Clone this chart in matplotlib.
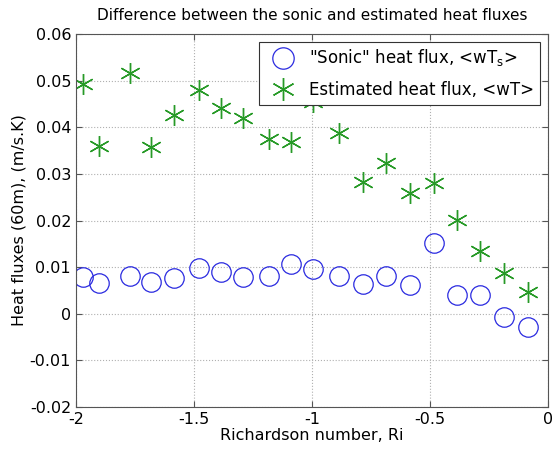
import matplotlib
matplotlib.use("Agg")
import matplotlib.pyplot as plt

# Richardson number bins
ri = [-1.97, -1.90, -1.77, -1.68, -1.585, -1.48, -1.385, -1.29, -1.18, -1.09,
      -0.995, -0.886, -0.785, -0.685, -0.585, -0.484, -0.387, -0.288, -0.186, -0.083]

# heat fluxes at 60 m (m/s.K)
sonic_flux = [0.0078, 0.0067, 0.0081, 0.0069, 0.0076, 0.0099, 0.0090, 0.0078, 0.0082, 0.0106,
              0.0096, 0.0082, 0.0063, 0.0082, 0.0061, 0.0151, 0.0040, 0.0040, -0.0006, -0.0029]
estimated_flux = [0.0494, 0.0361, 0.0516, 0.0357, 0.0426, 0.0481, 0.0441, 0.0419, 0.0374, 0.0368,
                  0.0454, 0.0387, 0.0283, 0.0323, 0.0260, 0.0281, 0.0202, 0.0134, 0.0087, 0.0047]

xticks = [-2, -1.5, -1, -0.5, 0]
xtick_labels = ["-2", "-1.5", "-1", "-0.5", "0"]
yticks = [-0.02, -0.01, 0, 0.01, 0.02, 0.03, 0.04, 0.05, 0.06]
ytick_labels = ["-0.02", "-0.01", "0", "0.01", "0.02", "0.03", "0.04", "0.05", "0.06"]

plt.rcParams["font.family"] = "DejaVu Sans"
plt.rcParams["mathtext.default"] = "regular"

fig = plt.figure(figsize=(5.58, 4.55), dpi=100)
ax = fig.add_axes([0.136, 0.1055, 0.846, 0.8195])

ax.plot(ri, sonic_flux, linestyle="none", marker="o", markersize=14,
        markerfacecolor="none", markeredgecolor="#2a2ae0", markeredgewidth=0.9,
        label='"Sonic" heat flux, <wT$_{s}$>')
ax.plot(ri, estimated_flux, linestyle="none", marker=(6, 2, 0), markersize=15,
        markeredgecolor="#279a27", markeredgewidth=1.0,
        label="Estimated heat flux, <wT>")

ax.set_xlim(-2, 0)
ax.set_ylim(-0.02, 0.06)
ax.set_xticks(xticks)
ax.set_xticklabels(xtick_labels)
ax.set_yticks(yticks)
ax.set_yticklabels(ytick_labels)
ax.tick_params(direction="in", top=True, right=True, labelsize=11.5, length=4,
               color="#555555")
ax.grid(True, linestyle=":", color="#b0b0b0", linewidth=0.8)
for s in ax.spines.values():
    s.set_color("#555555")

ax.set_xlabel("Richardson number, Ri", fontsize=11.5, labelpad=1)
ax.set_ylabel("Heat fluxes (60m), (m/s.K)", fontsize=11.5, labelpad=2)
ax.set_title("Difference between the sonic and estimated heat fluxes",
             fontsize=11, pad=10)

leg = ax.legend(loc="upper right", fontsize=12, fancybox=False,
                framealpha=1, edgecolor="#333333", borderpad=0.35,
                handletextpad=0.5, labelspacing=0.75, borderaxespad=0.45,
                handlelength=2.2, markerscale=1.1)
leg.get_frame().set_linewidth(0.8)

fig.savefig("out.png", dpi=100)
